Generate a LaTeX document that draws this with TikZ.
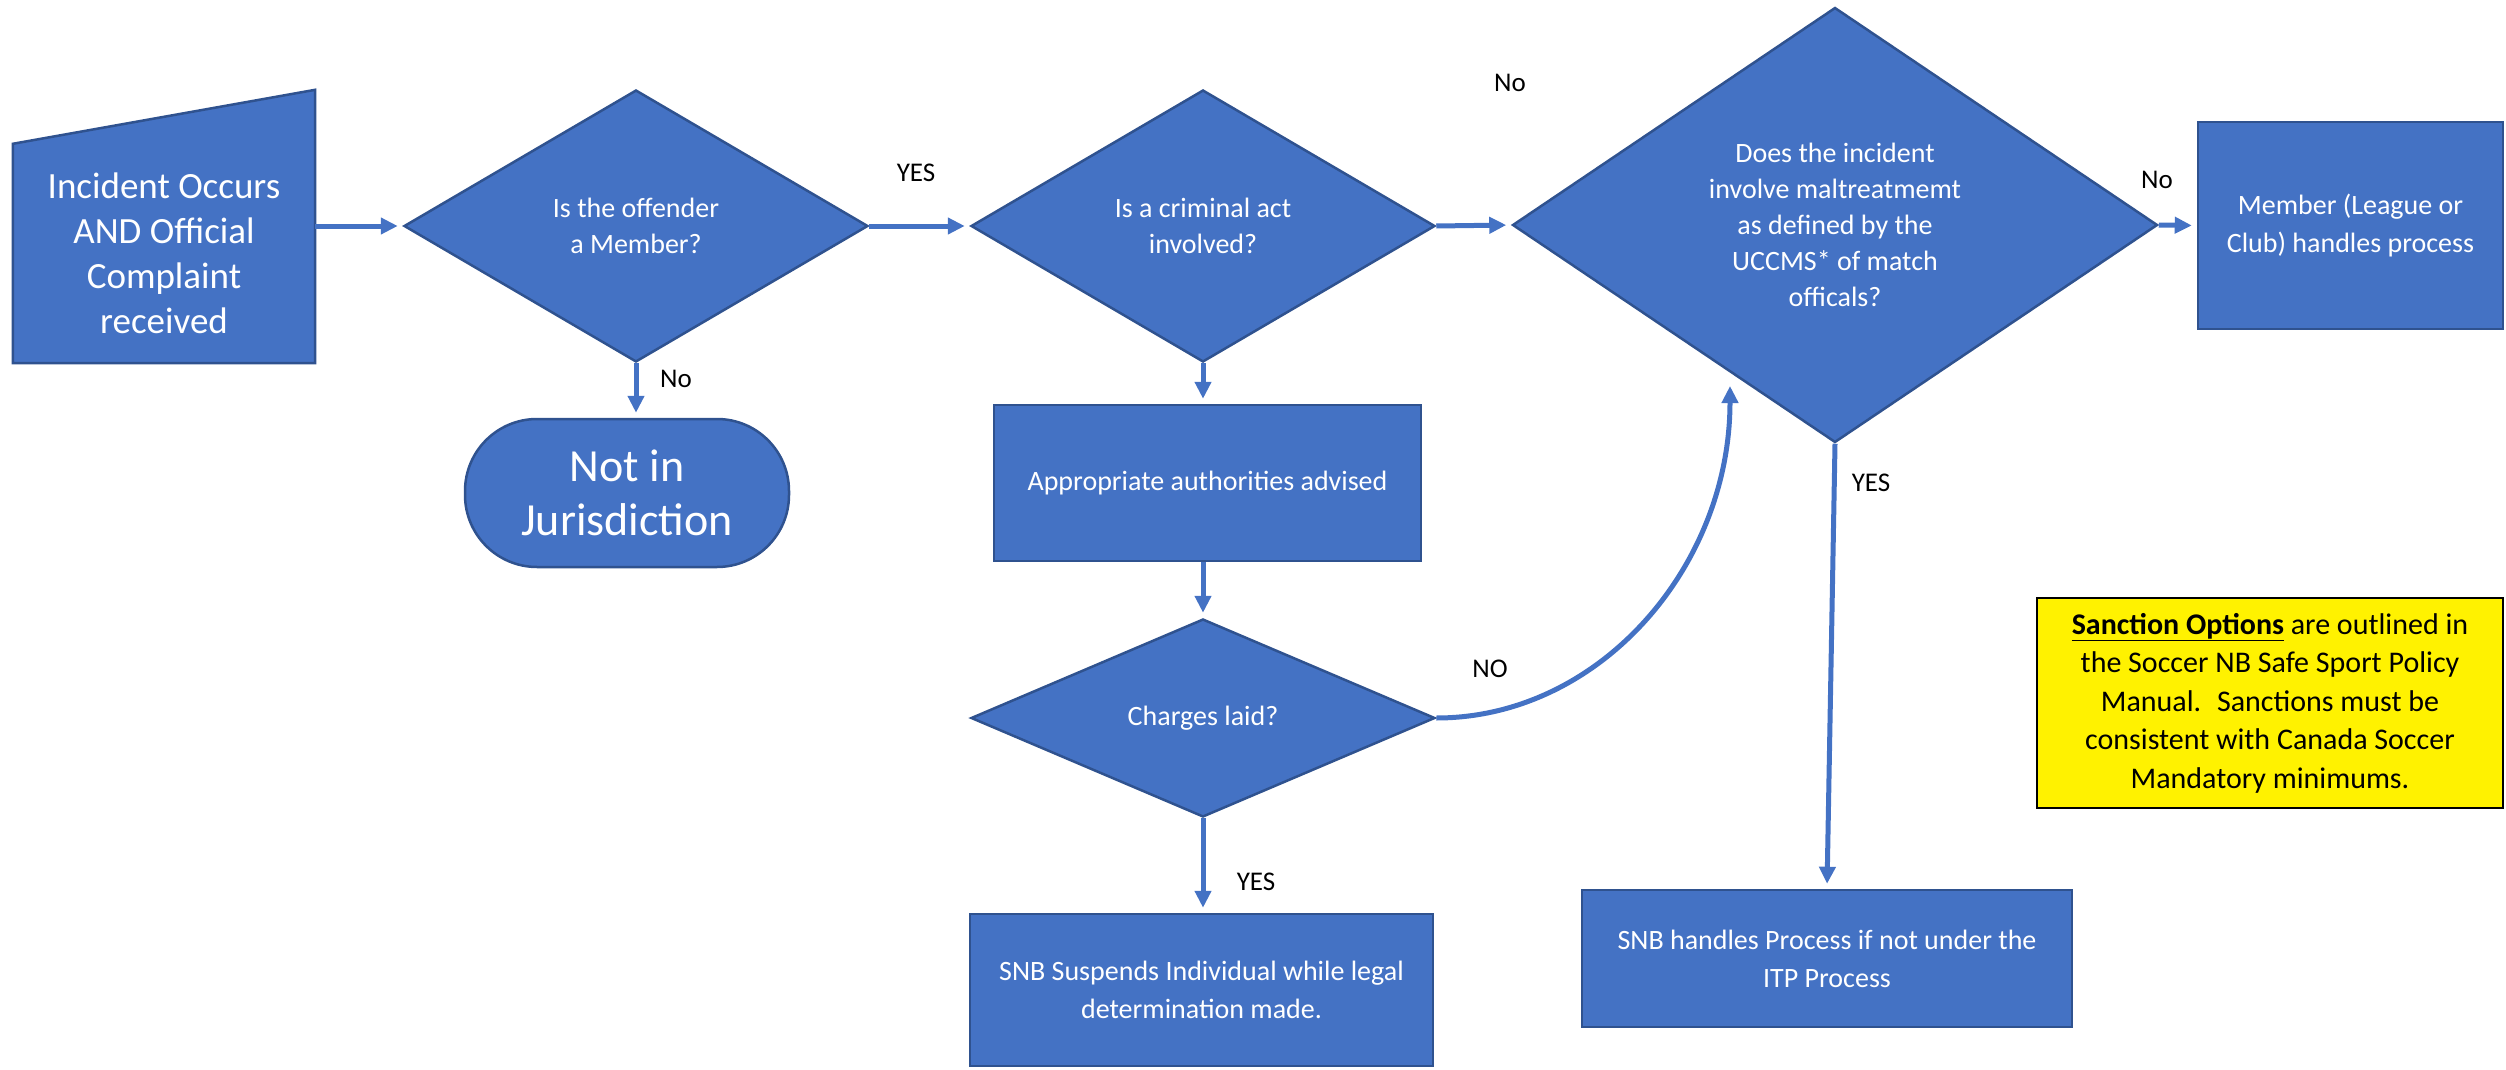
\documentclass[tikz,border=0pt]{standalone}
\usepackage{fontspec}
\setmainfont{Carlito}
\usetikzlibrary{shapes.geometric, arrows.meta, positioning, backgrounds}

\definecolor{shapeblue}{HTML}{4472C4}
\definecolor{edgeblue}{HTML}{2F528F}

\tikzstyle{decision} = [diamond, draw=edgeblue, fill=shapeblue, line width=2.5pt, text=white, align=center, inner sep=0pt, shape aspect=1.6, font=\fontsize{28}{36}\selectfont]
\tikzstyle{process} = [rectangle, draw=edgeblue, fill=shapeblue, line width=2.5pt, text=white, align=center, font=\fontsize{28}{38}\selectfont]
\tikzstyle{terminal} = [rectangle, rounded corners=72pt, draw=edgeblue, fill=shapeblue, line width=2.5pt, text=white, align=center, font=\fontsize{46}{54}\selectfont]
\tikzstyle{note} = [rectangle, draw=black, fill=yellow, line width=2.5pt, align=center, font=\fontsize{30}{38.5}\selectfont]
\tikzstyle{lbl} = [font=\fontsize{27}{30}\selectfont, text=black]
\tikzstyle{arrow} = [-{Triangle[length=17pt,width=16pt]}, shapeblue, line width=5pt, shorten >=5pt]

\begin{document}
\begin{tikzpicture}[x=1pt, y=-1pt]
  \useasboundingbox (0,0) rectangle (2506,1070);

  \node[minimum width=302pt, minimum height=219pt, inner sep=0pt, align=center, text=white, font=\fontsize{37}{45}\selectfont] (incident) at (164,253.5) {Incident Occurs\\AND Official\\Complaint\\received};
  \begin{scope}[on background layer]
    \draw[draw=edgeblue, fill=shapeblue, line width=2.5pt] (incident.south west) -- (incident.south east) -- ([yshift=54pt]incident.north east) -- (incident.north west) -- cycle;
  \end{scope}

  \node[decision, minimum width=464pt, minimum height=272pt] (member) at (636,226) {Is the offender\\a Member?};
  \node[decision, minimum width=464pt, minimum height=272pt] (criminal) at (1203,226) {Is a criminal act\\involved?};
  \node[decision, minimum width=645pt, minimum height=435pt] (maltreat) at (1835,225) {Does the incident\\involve maltreatmemt\\as defined by the\\UCCMS* of match\\officals?};
  \node[process, minimum width=305pt, minimum height=207pt] (club) at (2350.5,225.5) {Member (League or\\Club) handles process};
  \node[terminal, minimum width=324pt, minimum height=148pt] (notjur) at (627,493) {Not in\\Jurisdiction};
  \node[process, minimum width=427pt, minimum height=156pt] (advised) at (1207.5,483) {Appropriate authorities advised};
  \node[decision, minimum width=464pt, minimum height=198pt] (charges) at (1203,718) {Charges laid?};
  \node[process, minimum width=463pt, minimum height=152pt] (suspend) at (1201.5,990) {SNB Suspends Individual while legal\\determination made.};
  \node[process, minimum width=490pt, minimum height=137pt] (handles) at (1827,958.5) {SNB handles Process if not under the\\ITP Process};
  \node[note, minimum width=466pt, minimum height=210pt] (sanction) at (2270,703) {\textbf{\underline{Sanction Options}} are outlined in\\the Soccer NB Safe Sport Policy\\Manual.~ Sanctions must be\\consistent with Canada Soccer\\Mandatory minimums.};

  \node[lbl] (yesmember) at (916,173) {YES};
  \node[lbl] (nomember) at (676,379) {No};
  \node[lbl] (nocriminal) at (1510,83) {No};
  \node[lbl] (nomaltreat) at (2157,180) {No};
  \node[lbl] (nocharges) at (1490,669) {NO};
  \node[lbl] (yesmaltreat) at (1871,483) {YES};
  \node[lbl] (yescharges) at (1256,882) {YES};

  \coordinate (backin) at (1730,381);

  \draw[arrow] (member.west -| incident.east) -- (member.west);
  \draw[arrow] (member.east) -- (criminal.west);
  \draw[arrow] (criminal.east) -- (maltreat.west);
  \draw[arrow] (maltreat.east) -- (club.west);
  \draw[arrow] (member.south) -- (member.south |- notjur.north);
  \draw[arrow] (criminal.south) -- (criminal.south |- advised.north);
  \draw[arrow] (advised.south -| charges.north) -- (charges.north);
  \draw[arrow] (charges.south) -- (charges.south |- suspend.north);
  \draw[arrow] (maltreat.south) -- (handles.north);
  \draw[arrow] (charges.east) .. controls +(163,0) and +(0,186) .. (backin);

\end{tikzpicture}
\end{document}
